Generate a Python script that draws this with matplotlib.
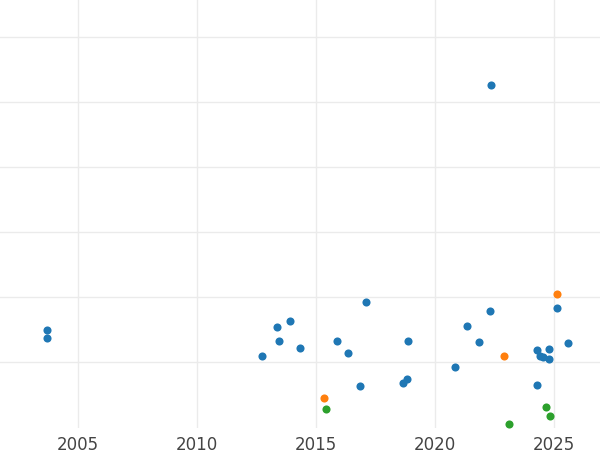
import matplotlib.pyplot as plt

# approximate values
blue_x = [2003.70, 2003.70, 2012.73, 2013.36, 2013.45, 2013.91, 2014.33, 2015.88, 2016.34,
          2016.85, 2017.10, 2018.66, 2018.82, 2018.87, 2020.84, 2021.34, 2021.85, 2022.31,
          2022.35, 2024.29, 2024.41, 2024.54, 2024.79, 2024.79, 2024.29, 2025.13, 2025.59]
blue_y = [1.49, 1.37, 1.09, 1.54, 1.32, 1.63, 1.22, 1.32, 1.14,
          0.63, 1.92, 0.68, 0.74, 1.32, 0.92, 1.55, 1.31, 1.78,
          5.26, 1.18, 1.09, 1.08, 1.20, 1.05, 0.65, 1.83, 1.29]
orange_x = [2015.34, 2022.90, 2025.13]
orange_y = [0.45, 1.09, 2.05]
green_x = [2015.42, 2024.66, 2024.83, 2023.11]
green_y = [0.28, 0.31, 0.17, 0.05]

fig = plt.figure(figsize=(6, 4.5), dpi=100)
ax = fig.add_axes([0, 0.049, 1, 0.951])

ax.scatter(blue_x, blue_y, s=34, color='#1f77b4', zorder=3, linewidths=0)
ax.scatter(orange_x, orange_y, s=34, color='#ff7f0e', zorder=3, linewidths=0)
ax.scatter(green_x, green_y, s=34, color='#2ca02c', zorder=3, linewidths=0)

ax.set_xlim(2001.72, 2026.93)
ax.set_ylim(-0.015, 6.57)
ax.set_xticks([2005, 2010, 2015, 2020, 2025])
ax.set_yticks([1, 2, 3, 4, 5, 6])
ax.set_yticklabels([])
ax.grid(True, color='#ebebeb', linewidth=1)
ax.set_axisbelow(True)
for s in ax.spines.values():
    s.set_visible(False)
ax.tick_params(axis='both', length=0, labelsize=12, colors='#444444')
ax.tick_params(axis='x', pad=6)

fig.savefig('out.png', dpi=100)
